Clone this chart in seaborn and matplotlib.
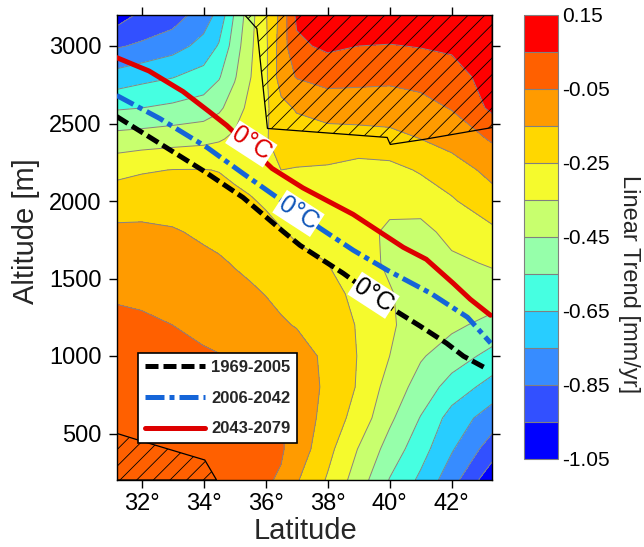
import numpy as np
import pandas as pd
import matplotlib
matplotlib.use("Agg")
import matplotlib.pyplot as plt
import seaborn as sns
from matplotlib.colors import ListedColormap, BoundaryNorm

# ---------------- data ----------------
lat_grid = [31.2, 32, 33, 34, 34.5, 35, 35.5, 36, 36.5, 37, 38, 39, 40, 41, 42, 43.3]
alt_grid = [200, 400, 600, 800, 1000, 1200, 1400, 1600, 1800, 2000, 2200, 2400, 2600, 2800, 3000, 3200]

trend_200 = [0.04, 0.03, 0.02, 0.01, 0.0, -0.005, -0.01, -0.04, -0.06, -0.14, -0.26, -0.40, -0.555, -0.67, -0.81, -1.02]
trend_400 = [0.03, 0.02, 0.01, 0.0, -0.01, -0.015, -0.02, -0.03, -0.04, -0.09, -0.22, -0.355, -0.49, -0.61, -0.74, -0.90]
trend_600 = [0.02, 0.01, 0.0, -0.01, -0.02, -0.025, -0.03, -0.04, -0.045, -0.08, -0.19, -0.29, -0.43, -0.555, -0.69, -0.80]
trend_800 = [0.01, 0.0, -0.01, -0.02, -0.03, -0.035, -0.04, -0.05, -0.07, -0.09, -0.17, -0.26, -0.39, -0.49, -0.59, -0.69]
trend_1000 = [-0.01, -0.015, -0.03, -0.04, -0.047, -0.062, -0.068, -0.083, -0.10, -0.11, -0.17, -0.255, -0.35, -0.44, -0.50, -0.58]
trend_1200 = [-0.03, -0.035, -0.05, -0.07, -0.08, -0.093, -0.10, -0.12, -0.14, -0.155, -0.18, -0.26, -0.33, -0.42, -0.43, -0.48]
trend_1400 = [-0.06, -0.067, -0.08, -0.10, -0.11, -0.125, -0.136, -0.152, -0.17, -0.19, -0.21, -0.28, -0.34, -0.41, -0.40, -0.40]
trend_1600 = [-0.10, -0.10, -0.11, -0.13, -0.14, -0.155, -0.17, -0.19, -0.20, -0.23, -0.25, -0.30, -0.37, -0.40, -0.37, -0.34]
trend_1800 = [-0.133, -0.133, -0.142, -0.164, -0.175, -0.19, -0.207, -0.225, -0.245, -0.26, -0.28, -0.31, -0.37, -0.38, -0.32, -0.27]
trend_2000 = [-0.19, -0.185, -0.19, -0.205, -0.213, -0.227, -0.243, -0.26, -0.28, -0.28, -0.29, -0.30, -0.32, -0.31, -0.26, -0.19]
trend_2200 = [-0.28, -0.26, -0.248, -0.247, -0.253, -0.27, -0.28, -0.26, -0.25, -0.255, -0.26, -0.28, -0.28, -0.24, -0.20, -0.12]
trend_2400 = [-0.41, -0.40, -0.388, -0.376, -0.36, -0.332, -0.30, -0.26, -0.20, -0.20, -0.20, -0.20, -0.18, -0.15, -0.11, -0.04]
trend_2600 = [-0.56, -0.55, -0.53, -0.506, -0.468, -0.40, -0.32, -0.27, -0.18, -0.14, -0.10, -0.09, -0.10, -0.08, -0.045, 0.07]
trend_2800 = [-0.71, -0.68, -0.654, -0.61, -0.558, -0.46, -0.355, -0.27, -0.10, -0.045, -0.02, -0.03, -0.03, -0.02, 0.0, 0.10]
trend_3000 = [-0.86, -0.835, -0.79, -0.718, -0.64, -0.503, -0.37, -0.27, -0.10, 0.03, 0.07, 0.05, 0.045, 0.055, 0.07, 0.12]
trend_3200 = [-1.00, -0.93, -0.90, -0.80, -0.72, -0.54, -0.39, -0.26, -0.12, 0.07, 0.12, 0.13, 0.13, 0.13, 0.14, 0.14]

levels = [-1.05, -0.95, -0.85, -0.75, -0.65, -0.55, -0.45, -0.35, -0.25, -0.15, -0.05, 0.05, 0.15]
level_colors = ["#0000FF", "#3250FF", "#378CFF", "#28CDFF", "#46FFE1", "#96FFAA",
                "#C8FF6E", "#F5FA2D", "#FFD700", "#FF9B00", "#FF6000", "#FF0000"]
cbar_ticks = [-1.05, -0.85, -0.65, -0.45, -0.25, -0.05, 0.15]
lat_ticks = [32, 34, 36, 38, 40, 42]
alt_ticks = [500, 1000, 1500, 2000, 2500, 3000]

periods = ["1969-2005", "2006-2042", "2043-2079"]
iso_lat_1969 = [31.2, 32.59, 33.98, 35.27, 36.56, 37.11, 38.5, 40.11, 40.99, 41.83, 42.38, 43.09]
iso_alt_1969 = [2545, 2371, 2197, 2023, 1804, 1714, 1534, 1302, 1192, 1083, 999, 922]
iso_lat_2006 = [31.2, 32.59, 34.11, 35.27, 36.37, 37.76, 38.83, 39.93, 41.32, 42.51, 43.26]
iso_alt_2006 = [2681, 2532, 2346, 2178, 2023, 1824, 1682, 1553, 1405, 1250, 1083]
iso_lat_2043 = [31.2, 32.24, 33.34, 34.18, 34.75, 36.21, 37.2, 38.82, 40.44, 41.18, 42.05, 42.6, 43.25]
iso_alt_2043 = [2925, 2839, 2706, 2577, 2487, 2210, 2085, 1914, 1701, 1624, 1469, 1366, 1263]

label_lat = [39.48, 37.06, 35.54]
label_alt = [1392, 1920, 2368]

hatch_top_lat = [35.33, 35.72, 36.06, 39.92, 40.02, 41.09, 43.31, 43.31]
hatch_top_alt = [3200, 3112, 2468, 2410, 2365, 2397, 2474, 3200]
hatch_bl_lat = [31.2, 31.89, 34.04, 34.42, 31.2]
hatch_bl_alt = [501, 458, 329, 200, 200]

# ---------------- style ----------------
sns.set_theme(style="ticks")
plt.rcParams["font.family"] = ["Liberation Sans", "DejaVu Sans"]
plt.rcParams["hatch.linewidth"] = 0.6
plt.rcParams["axes.edgecolor"] = "black"
plt.rcParams["xtick.color"] = "black"
plt.rcParams["ytick.color"] = "black"

fig = plt.figure(figsize=(6.44, 5.47), dpi=100)
ax = fig.add_axes([116.7 / 644, 1 - 480 / 547, 375.3 / 644, 465 / 547])
cax = fig.add_axes([524 / 644, 1 - 459 / 547, 34 / 644, 444 / 547])

Z = np.array([trend_200, trend_400, trend_600, trend_800, trend_1000, trend_1200,
              trend_1400, trend_1600, trend_1800, trend_2000, trend_2200, trend_2400,
              trend_2600, trend_2800, trend_3000, trend_3200])
cmap = ListedColormap(level_colors)
norm = BoundaryNorm(levels, cmap.N)
cf = ax.contourf(lat_grid, alt_grid, Z, levels=levels, cmap=cmap, norm=norm, zorder=1)
ax.contour(lat_grid, alt_grid, Z, levels=levels, colors="#858585", linewidths=0.7,
           linestyles="solid", zorder=2)

# hatched regions
ax.fill(hatch_top_lat, hatch_top_alt, facecolor="none", edgecolor="black",
        hatch="//", linewidth=0.9, zorder=3)
ax.fill(hatch_bl_lat, hatch_bl_alt, facecolor="none", edgecolor="black",
        hatch="//", linewidth=0.9, zorder=3)

# 0 degC isotherms
line_specs = [
    (iso_lat_1969, iso_alt_1969, "black", (0, (2.6, 1.0))),
    (iso_lat_2006, iso_alt_2006, "#1565D8", (0, (3.8, 1.0, 1.0, 1.0))),
    (iso_lat_2043, iso_alt_2043, "#DD0000", "-"),
]
handles = []
for (xs, ys, col, ls), per in zip(line_specs, periods):
    df = pd.DataFrame({"lat": xs, "alt": ys})
    sns.lineplot(data=df, x="lat", y="alt", ax=ax, color=col, linewidth=3.6,
                 sort=False, estimator=None, zorder=4, legend=False)
    ln = ax.lines[-1]
    ln.set_linestyle(ls)
    ln.set_label(per)
    handles.append(ln)

label_colors = ["black", "#0F55B8", "#DD0000"]
for la, al, c in zip(label_lat, label_alt, label_colors):
    ax.text(la, al, "0°C", color=c, fontsize=18, rotation=-33, ha="center", va="center",
            rotation_mode="anchor",
            bbox=dict(facecolor="white", edgecolor="none", pad=1.0), zorder=6)

ax.set_xlim(31.2, 43.3)
ax.set_ylim(200, 3200)
ax.set_xticks(lat_ticks)
ax.set_xticklabels([f"{t}°" for t in lat_ticks])
ax.set_yticks(alt_ticks)
ax.set_yticklabels([str(t) for t in alt_ticks])
ax.tick_params(direction="out", length=6, width=1, labelsize=17, top=True, right=True,
               labeltop=False, labelright=False)
ax.tick_params(axis="y", pad=5)
ax.tick_params(axis="x", pad=3)
ax.set_xlabel("")
ax.set_ylabel("")
for s in ax.spines.values():
    s.set_linewidth(1.0)
    s.set_color("black")

leg = ax.legend(handles=handles, loc="lower left", bbox_to_anchor=(0.057, 0.0795),
                borderaxespad=0, borderpad=0.4, handlelength=3.6, handletextpad=0.4,
                labelspacing=0.95, prop={"weight": "bold", "size": 12}, fancybox=False,
                framealpha=1, edgecolor="black")
leg.get_frame().set_linewidth(1.2)
leg.set_zorder(7)

cb = fig.colorbar(cf, cax=cax, ticks=cbar_ticks, drawedges=False)
cb.minorticks_off()
cb.set_ticklabels([f"{t:.2f}" for t in cbar_ticks])
cb.ax.tick_params(axis="y", which="both", left=False, right=False, length=0, width=0,
                  labelright=True, labelsize=15, pad=3)
cb.ax.tick_params(axis="x", which="both", bottom=False, top=False, length=0)
cb.outline.set_edgecolor("#808080")
cb.outline.set_linewidth(0.8)
for lv in levels[1:-1]:
    cb.ax.axhline(lv, color="#808080", linewidth=0.8)

fig.text(26 / 644, 1 - 231 / 547, "Altitude [m]", rotation=90, ha="center", va="center", fontsize=21)
fig.text(305 / 644, 1 - 531 / 547, "Latitude", ha="center", va="center", fontsize=21)
fig.text(629 / 644, 1 - 284 / 547, "Linear Trend [mm/yr]", rotation=270, ha="center", va="center", fontsize=17)

fig.savefig("out.png", dpi=100)
